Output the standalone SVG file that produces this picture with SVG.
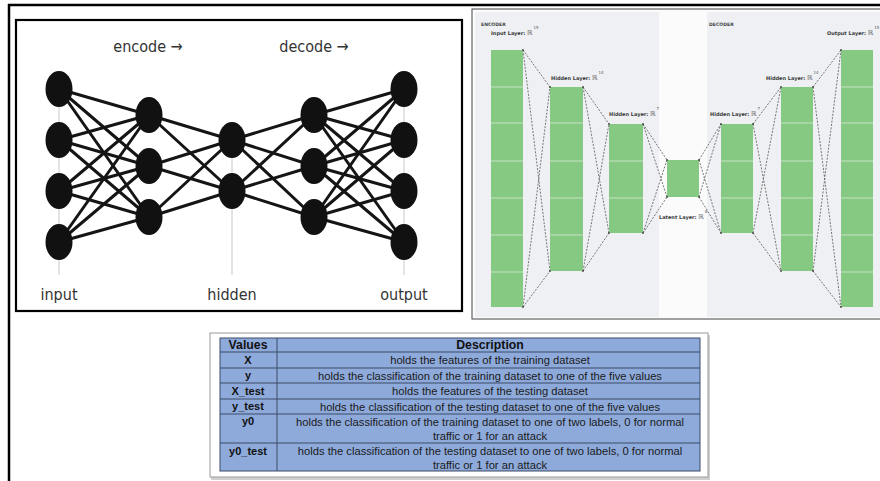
<svg xmlns="http://www.w3.org/2000/svg" width="880" height="481" viewBox="0 0 880 481">
  <style>
    .frame { fill: none; stroke: #000; }
    .nn-edge { stroke: #151515; stroke-width: 3; stroke-linecap: round; }
    .nn-node { fill: #111; }
    .guide { stroke: #c8c8c8; stroke-width: 1; }
    .nn-label { font-family: "DejaVu Sans Condensed", "DejaVu Sans", sans-serif; font-stretch: condensed; font-size: 16px; fill: #333; text-anchor: middle; }
    .panel { fill: #eef0f3; }
    .layer { fill: #86c982; }
    .cell { stroke: #d6ecd3; stroke-width: 0.8; }
    .dash { stroke: #555; stroke-width: 0.8; stroke-dasharray: 2 1.4; fill: none; }
    .corner { fill: #444; }
    .tiny { font-family: "DejaVu Sans", sans-serif; font-size: 5px; fill: #3a3a3a; font-weight: bold; }
    .rr { font-size: 7px; font-weight: normal; fill: #555; }
    .sup { font-size: 4px; font-weight: normal; fill: #555; }
    .cap { font-family: "DejaVu Sans", sans-serif; font-size: 4.6px; fill: #444; font-weight: bold; }
    .tbl-line { stroke: #3b4a66; stroke-width: 1; }
    .th { font-family: "Liberation Sans", Arial, sans-serif; font-size: 12.3px; font-weight: bold; fill: #111; text-anchor: middle; }
    .tv { font-family: "Liberation Sans", Arial, sans-serif; font-size: 11px; font-weight: bold; fill: #111; text-anchor: middle; }
    .td { font-family: "Liberation Sans", Arial, sans-serif; font-size: 11.2px; fill: #1a1a1a; text-anchor: middle; }
  </style>

  <rect width="880" height="481" fill="#fff"/>

  <!-- page frame -->
  <g id="page-frame">
    <line x1="8" y1="5" x2="880" y2="5" stroke="#000" stroke-width="2.5"/>
    <line x1="9" y1="4" x2="9" y2="481" stroke="#000" stroke-width="2.5"/>
  </g>

  <!-- ===== Left: autoencoder network sketch ===== -->
  <g id="autoencoder-sketch">
    <rect class="frame" x="16" y="20" width="446" height="291" stroke-width="2.2" fill="#fff"/>

    <g id="guides">
      <line class="guide" x1="59" y1="89" x2="59" y2="275"/>
      <line class="guide" x1="232" y1="140" x2="232" y2="275"/>
      <line class="guide" x1="404" y1="89" x2="404" y2="275"/>
    </g>

    <g id="nn-connectors">
      <!-- input -> encode -->
      <line class="nn-edge" x1="59" y1="89" x2="149" y2="115"/>
      <line class="nn-edge" x1="59" y1="89" x2="149" y2="166"/>
      <line class="nn-edge" x1="59" y1="89" x2="149" y2="217"/>
      <line class="nn-edge" x1="59" y1="140" x2="149" y2="115"/>
      <line class="nn-edge" x1="59" y1="140" x2="149" y2="166"/>
      <line class="nn-edge" x1="59" y1="140" x2="149" y2="217"/>
      <line class="nn-edge" x1="59" y1="191" x2="149" y2="115"/>
      <line class="nn-edge" x1="59" y1="191" x2="149" y2="166"/>
      <line class="nn-edge" x1="59" y1="191" x2="149" y2="217"/>
      <line class="nn-edge" x1="59" y1="242" x2="149" y2="115"/>
      <line class="nn-edge" x1="59" y1="242" x2="149" y2="166"/>
      <line class="nn-edge" x1="59" y1="242" x2="149" y2="217"/>
      <!-- encode -> hidden -->
      <line class="nn-edge" x1="149" y1="115" x2="232" y2="140"/>
      <line class="nn-edge" x1="149" y1="115" x2="232" y2="191"/>
      <line class="nn-edge" x1="149" y1="166" x2="232" y2="140"/>
      <line class="nn-edge" x1="149" y1="166" x2="232" y2="191"/>
      <line class="nn-edge" x1="149" y1="217" x2="232" y2="140"/>
      <line class="nn-edge" x1="149" y1="217" x2="232" y2="191"/>
      <!-- hidden -> decode -->
      <line class="nn-edge" x1="232" y1="140" x2="314" y2="115"/>
      <line class="nn-edge" x1="232" y1="140" x2="314" y2="166"/>
      <line class="nn-edge" x1="232" y1="140" x2="314" y2="217"/>
      <line class="nn-edge" x1="232" y1="191" x2="314" y2="115"/>
      <line class="nn-edge" x1="232" y1="191" x2="314" y2="166"/>
      <line class="nn-edge" x1="232" y1="191" x2="314" y2="217"/>
      <!-- decode -> output -->
      <line class="nn-edge" x1="314" y1="115" x2="404" y2="89"/>
      <line class="nn-edge" x1="314" y1="115" x2="404" y2="140"/>
      <line class="nn-edge" x1="314" y1="115" x2="404" y2="191"/>
      <line class="nn-edge" x1="314" y1="115" x2="404" y2="242"/>
      <line class="nn-edge" x1="314" y1="166" x2="404" y2="89"/>
      <line class="nn-edge" x1="314" y1="166" x2="404" y2="140"/>
      <line class="nn-edge" x1="314" y1="166" x2="404" y2="191"/>
      <line class="nn-edge" x1="314" y1="166" x2="404" y2="242"/>
      <line class="nn-edge" x1="314" y1="217" x2="404" y2="89"/>
      <line class="nn-edge" x1="314" y1="217" x2="404" y2="140"/>
      <line class="nn-edge" x1="314" y1="217" x2="404" y2="191"/>
      <line class="nn-edge" x1="314" y1="217" x2="404" y2="242"/>
    </g>

    <g id="input-layer">
      <ellipse class="nn-node" cx="59" cy="89" rx="13.5" ry="18"/>
      <ellipse class="nn-node" cx="59" cy="140" rx="13.5" ry="18"/>
      <ellipse class="nn-node" cx="59" cy="191" rx="13.5" ry="18"/>
      <ellipse class="nn-node" cx="59" cy="242" rx="13.5" ry="18"/>
    </g>
    <g id="encode-layer">
      <ellipse class="nn-node" cx="149" cy="115" rx="13.5" ry="18"/>
      <ellipse class="nn-node" cx="149" cy="166" rx="13.5" ry="18"/>
      <ellipse class="nn-node" cx="149" cy="217" rx="13.5" ry="18"/>
    </g>
    <g id="hidden-layer">
      <ellipse class="nn-node" cx="232" cy="140" rx="13.5" ry="18"/>
      <ellipse class="nn-node" cx="232" cy="191" rx="13.5" ry="18"/>
    </g>
    <g id="decode-layer">
      <ellipse class="nn-node" cx="314" cy="115" rx="13.5" ry="18"/>
      <ellipse class="nn-node" cx="314" cy="166" rx="13.5" ry="18"/>
      <ellipse class="nn-node" cx="314" cy="217" rx="13.5" ry="18"/>
    </g>
    <g id="output-layer">
      <ellipse class="nn-node" cx="404" cy="89" rx="13.5" ry="18"/>
      <ellipse class="nn-node" cx="404" cy="140" rx="13.5" ry="18"/>
      <ellipse class="nn-node" cx="404" cy="191" rx="13.5" ry="18"/>
      <ellipse class="nn-node" cx="404" cy="242" rx="13.5" ry="18"/>
    </g>

    <g id="nn-labels">
      <text class="nn-label" x="148" y="52">encode →</text>
      <text class="nn-label" x="314" y="52">decode →</text>
      <text class="nn-label" x="59" y="300">input</text>
      <text class="nn-label" x="232" y="300">hidden</text>
      <text class="nn-label" x="404" y="300">output</text>
    </g>
  </g>

  <!-- ===== Right: layer-size diagram ===== -->
  <g id="layer-diagram">
    <rect x="472" y="9" width="412" height="310" fill="#fbfbfc" stroke="#444" stroke-width="1"/>
    <rect class="panel" x="475" y="12" width="184" height="305"/>
    <rect class="panel" x="707" y="12" width="175" height="305"/>
    <text class="cap" x="481" y="26">ENCODER</text>
    <text class="cap" x="709" y="26">DECODER</text>

    <g id="ld-connectors">
      <path class="dash" d="M523 50L550 87M523 307L550 271M523 50L550 271M523 307L550 87"/>
      <path class="dash" d="M583 87L609 124M583 271L609 233M583 87L609 233M583 271L609 124"/>
      <path class="dash" d="M643 124L667 160M643 233L667 197M643 124L667 197M643 233L667 160"/>
      <path class="dash" d="M699 160L721 124M699 197L721 233M699 160L721 233M699 197L721 124"/>
      <path class="dash" d="M753 124L781 87M753 233L781 271M753 124L781 271M753 233L781 87"/>
      <path class="dash" d="M813 87L841 50M813 271L841 307M813 87L841 307M813 271L841 50"/>
    </g>

    <g id="enc-input">
      <rect class="layer" x="491" y="50" width="32" height="257"/>
      <path class="cell" d="M491 87H523M491 123H523M491 161H523M491 198H523M491 235H523M491 272H523"/>
      <text class="tiny" x="491" y="35">Input Layer: <tspan class="rr">ℝ</tspan><tspan class="sup" dx="1" dy="-6">15</tspan></text>
    </g>
    <g id="enc-hidden-14">
      <rect class="layer" x="550" y="87" width="33" height="184"/>
      <path class="cell" d="M550 123H583M550 161H583M550 198H583M550 235H583"/>
      <text class="tiny" x="551" y="80">Hidden Layer: <tspan class="rr">ℝ</tspan><tspan class="sup" dx="1" dy="-6">14</tspan></text>
    </g>
    <g id="enc-hidden-7">
      <rect class="layer" x="609" y="124" width="34" height="109"/>
      <path class="cell" d="M609 161H643M609 198H643"/>
      <text class="tiny" x="609" y="116">Hidden Layer: <tspan class="rr">ℝ</tspan><tspan class="sup" dx="1" dy="-6">7</tspan></text>
    </g>
    <g id="latent">
      <rect class="layer" x="667" y="160" width="32" height="37"/>
      <text class="tiny" x="659" y="219">Latent Layer: <tspan class="rr">ℝ</tspan><tspan class="sup" dx="1" dy="-6">8</tspan></text>
    </g>
    <g id="dec-hidden-7">
      <rect class="layer" x="721" y="124" width="32" height="109"/>
      <path class="cell" d="M721 161H753M721 198H753"/>
      <text class="tiny" x="710" y="116">Hidden Layer: <tspan class="rr">ℝ</tspan><tspan class="sup" dx="1" dy="-6">7</tspan></text>
    </g>
    <g id="dec-hidden-14">
      <rect class="layer" x="781" y="87" width="32" height="184"/>
      <path class="cell" d="M781 123H813M781 161H813M781 198H813M781 235H813"/>
      <text class="tiny" x="766" y="80">Hidden Layer: <tspan class="rr">ℝ</tspan><tspan class="sup" dx="1" dy="-6">14</tspan></text>
    </g>
    <g id="dec-output">
      <rect class="layer" x="841" y="50" width="32" height="257"/>
      <path class="cell" d="M841 87H873M841 123H873M841 161H873M841 198H873M841 235H873M841 272H873"/>
      <text class="tiny" x="827" y="35">Output Layer: <tspan class="rr">ℝ</tspan><tspan class="sup" dx="1" dy="-6">15</tspan></text>
    </g>

    <g id="corner-dots">
      <circle class="corner" cx="523" cy="50" r="0.9"/><circle class="corner" cx="523" cy="307" r="0.9"/>
      <circle class="corner" cx="550" cy="87" r="0.9"/><circle class="corner" cx="550" cy="271" r="0.9"/>
      <circle class="corner" cx="583" cy="87" r="0.9"/><circle class="corner" cx="583" cy="271" r="0.9"/>
      <circle class="corner" cx="609" cy="124" r="0.9"/><circle class="corner" cx="609" cy="233" r="0.9"/>
      <circle class="corner" cx="643" cy="124" r="0.9"/><circle class="corner" cx="643" cy="233" r="0.9"/>
      <circle class="corner" cx="667" cy="160" r="0.9"/><circle class="corner" cx="667" cy="197" r="0.9"/>
      <circle class="corner" cx="699" cy="160" r="0.9"/><circle class="corner" cx="699" cy="197" r="0.9"/>
      <circle class="corner" cx="721" cy="124" r="0.9"/><circle class="corner" cx="721" cy="233" r="0.9"/>
      <circle class="corner" cx="753" cy="124" r="0.9"/><circle class="corner" cx="753" cy="233" r="0.9"/>
      <circle class="corner" cx="781" cy="87" r="0.9"/><circle class="corner" cx="781" cy="271" r="0.9"/>
      <circle class="corner" cx="813" cy="87" r="0.9"/><circle class="corner" cx="813" cy="271" r="0.9"/>
      <circle class="corner" cx="841" cy="50" r="0.9"/><circle class="corner" cx="841" cy="307" r="0.9"/>
    </g>
  </g>

  <!-- ===== Bottom: variables table ===== -->
  <g id="values-table">
    <rect x="211" y="335" width="499" height="145" fill="#d0d0d0"/>
    <rect x="210" y="333" width="498" height="144" fill="#fff" stroke="#9a9a9a" stroke-width="1"/>
    <rect x="220" y="338" width="480" height="133" fill="#8eaadb"/>
    <g id="table-grid">
      <rect x="220" y="338" width="480" height="133" fill="none" class="tbl-line"/>
      <line class="tbl-line" x1="277" y1="338" x2="277" y2="471" stroke-width="1.3"/>
      <line class="tbl-line" x1="220" y1="352" x2="700" y2="352"/>
      <line class="tbl-line" x1="220" y1="368" x2="700" y2="368"/>
      <line class="tbl-line" x1="220" y1="383" x2="700" y2="383"/>
      <line class="tbl-line" x1="220" y1="399" x2="700" y2="399"/>
      <line class="tbl-line" x1="220" y1="414" x2="700" y2="414"/>
      <line class="tbl-line" x1="220" y1="443" x2="700" y2="443"/>
    </g>
    <text class="th" x="248" y="349">Values</text>
    <text class="th" x="490" y="349">Description</text>
    <text class="tv" x="248" y="364">X</text>
    <text class="td" x="490" y="364">holds the features of the training dataset</text>
    <text class="tv" x="248" y="379">y</text>
    <text class="td" x="490" y="380">holds the classification of the training dataset to one of the five values</text>
    <text class="tv" x="248" y="395">X_test</text>
    <text class="td" x="490" y="395">holds the features of the testing dataset</text>
    <text class="tv" x="248" y="410">y_test</text>
    <text class="td" x="490" y="411">holds the classification of the testing dataset to one of the five values</text>
    <text class="tv" x="248" y="425">y0</text>
    <text class="td" x="490" y="426">holds the classification of the training dataset to one of two labels, 0 for normal</text>
    <text class="td" x="490" y="440">traffic or 1 for an attack</text>
    <text class="tv" x="248" y="455">y0_test</text>
    <text class="td" x="490" y="455">holds the classification of the testing dataset to one of two labels, 0 for normal</text>
    <text class="td" x="490" y="469">traffic or 1 for an attack</text>
  </g>
</svg>
